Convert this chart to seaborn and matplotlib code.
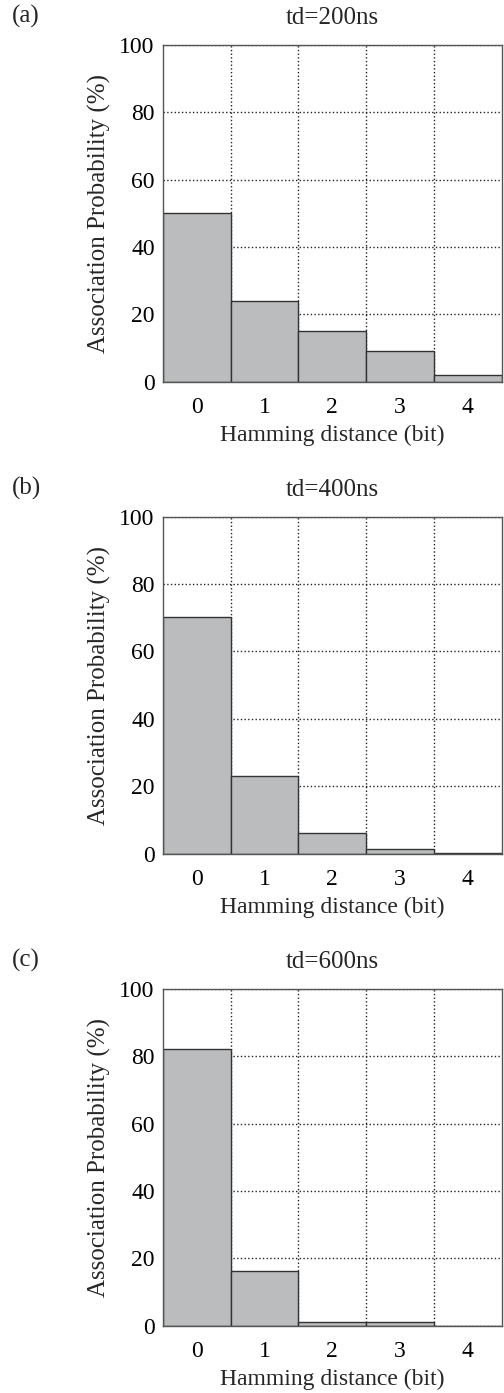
import pandas as pd
import matplotlib
matplotlib.use('Agg')
import matplotlib.pyplot as plt
import seaborn as sns

sns.set_style("white")
plt.rcParams['font.family'] = ['Liberation Serif', 'DejaVu Serif']

# Hamming distance categories
distances = [0, 1, 2, 3, 4]

# Association probability (%) for each delay time
prob_200 = [50.2, 24.0, 15.1, 9.0, 2.0]
prob_400 = [70.1, 23.0, 6.2, 1.2, 0.2]
prob_600 = [82.2, 16.2, 1.2, 1.2, 0.0]

titles = ['td=200ns', 'td=400ns', 'td=600ns']
panel_labels = ['(a)', '(b)', '(c)']
all_probs = [prob_200, prob_400, prob_600]

W, H = 504, 1393
fig = plt.figure(figsize=(W / 100, H / 100), dpi=100)

# axes tops in pixels (from top of image)
tops_px = [45, 516.7, 989]
ax_h_px = 336.8
left_px, right_px = 163, 501.7

for i in range(3):
    bottom = 1 - (tops_px[i] + ax_h_px) / H
    ax = fig.add_axes([left_px / W, bottom, (right_px - left_px) / W, ax_h_px / H])
    df = pd.DataFrame({'dist': distances, 'prob': all_probs[i]})
    sns.barplot(data=df, x='dist', y='prob', color='#bbbcbe', saturation=1,
                width=1.0, edgecolor='#333333', linewidth=1.0, ax=ax, zorder=3)
    ax.set_xlim(-0.5, 4.5)
    ax.set_ylim(0, 100)
    ax.set_yticks([0, 20, 40, 60, 80, 100])
    ax.set_xticks([0.5, 1.5, 2.5, 3.5], minor=True)
    ax.grid(False)
    ax.yaxis.grid(True, which='major', linestyle=':', color='#222222', linewidth=1.0)
    ax.xaxis.grid(True, which='minor', linestyle=':', color='#222222', linewidth=1.0)
    ax.set_axisbelow(True)
    ax.tick_params(axis='both', which='major', labelsize=17, direction='in', length=4,
                   colors='#333333', labelcolor='black')
    ax.tick_params(axis='y', which='major', pad=6)
    ax.tick_params(axis='x', which='major', length=0, pad=11)
    ax.tick_params(axis='x', which='minor', length=0)
    for sp in ax.spines.values():
        sp.set_visible(True)
        sp.set_color('#555555')
        sp.set_linewidth(1.0)
        sp.set_zorder(4)
    ax.set_xlabel('Hamming distance (bit)', fontsize=17, labelpad=5)
    ax.set_ylabel('Association Probability (%)', fontsize=18, labelpad=6)
    ax.set_title(titles[i], fontsize=18, pad=15)
    fig.text(12 / W, 1 - (tops_px[i] - 40) / H, panel_labels[i], fontsize=18,
             ha='left', va='top')

plt.savefig('out.png', dpi=100)
